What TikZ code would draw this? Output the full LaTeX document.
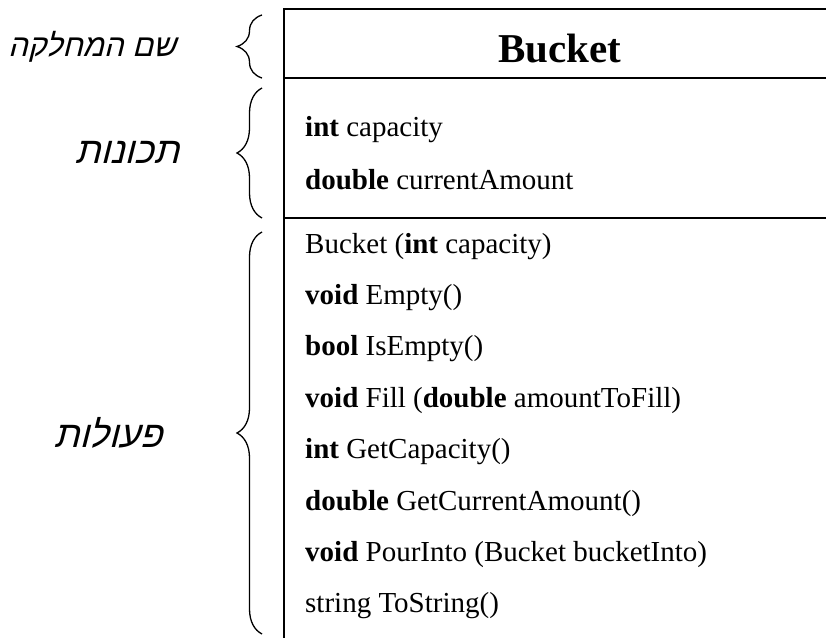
\documentclass[tikz,border=0pt]{standalone}
\usepackage{fontspec}
\setmainfont{Liberation Serif}
\newfontfamily\hebfont[Script=Hebrew,FakeSlant=0.25]{Liberation Sans}
\TeXXeTstate=1
\usetikzlibrary{decorations.pathreplacing}
\begin{document}
\begin{tikzpicture}[x=1pt,y=-1pt,
  box/.style={line width=2pt},
  brc/.style={decorate,decoration={brace,amplitude=25pt},line width=1.3pt},
  row/.style={anchor=base west,inner sep=0pt,font=\fontsize{29}{31}\selectfont},
  title/.style={anchor=base,inner sep=0pt,font=\fontsize{41}{44}\selectfont\bfseries},
  heb/.style={inner sep=0pt,font=\fontsize{#1}{36}\hebfont},
  heb/.default=34]
\useasboundingbox (0,0) rectangle (826,637);
% box lines
\coordinate (tl) at (284,9);
\coordinate (tr) at (830,9);
\coordinate (bl) at (284,640);
\coordinate (d1l) at (284,78);
\coordinate (d1r) at (830,78);
\coordinate (d2l) at (284,218);
\coordinate (d2r) at (830,218);
\draw[box] (tr) -- (tl) -- (bl);
\draw[box] (d1l) -- (d1r);
\draw[box] (d2l) -- (d2r);
% title
\node[title] (name) at (560,62) {Bucket};
% attributes
\node[row] (a1) at (305,136) {\textbf{int} capacity};
\node[row] (a2) at (305,189) {\textbf{double} currentAmount};
% methods
\node[row] (m1) at (305,253) {Bucket (\textbf{int} capacity)};
\node[row] (m2) at (305,304.4) {\textbf{void} Empty()};
\node[row] (m3) at (305,355.8) {\textbf{bool} IsEmpty()};
\node[row] (m4) at (305,407.2) {\textbf{void} Fill (\textbf{double} amountToFill)};
\node[row] (m5) at (305,458.6) {\textbf{int} GetCapacity()};
\node[row] (m6) at (305,510) {\textbf{double} GetCurrentAmount()};
\node[row] (m7) at (305,561.4) {\textbf{void} PourInto (Bucket bucketInto)};
\node[row] (m8) at (305,612.8) {string ToString()};
% braces
\coordinate (b1b) at (262,78);
\coordinate (b1t) at (262,15);
\coordinate (b2b) at (262,218);
\coordinate (b2t) at (262,88);
\coordinate (b3b) at (262,634);
\coordinate (b3t) at (262,232);
\draw[brc] (b1b) -- (b1t);
\draw[brc] (b2b) -- (b2t);
\draw[brc] (b3b) -- (b3t);
% hebrew labels
\node[heb=31] (h1) at (92,47) {\beginR שם המחלקה\endR};
\node[heb=37] (h2) at (127,152) {\beginR תכונות\endR};
\node[heb=37] (h3) at (108,433) {\beginR פעולות\endR};
\end{tikzpicture}
\end{document}
